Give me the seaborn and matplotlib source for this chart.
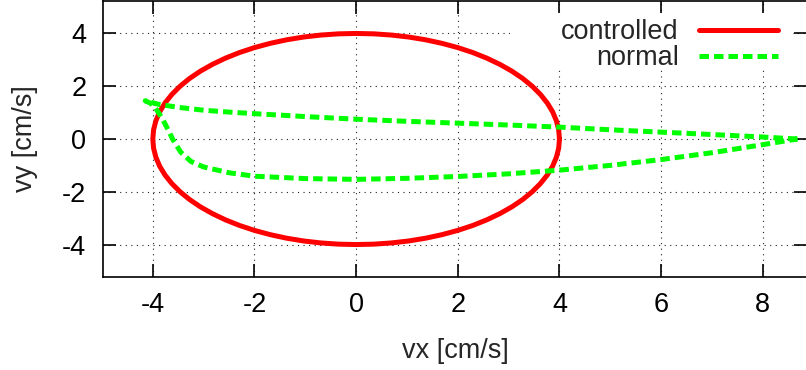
import numpy as np
import pandas as pd
import matplotlib
matplotlib.use("Agg")
import matplotlib.pyplot as plt
import seaborn as sns
from matplotlib.patches import Rectangle

# controlled: circle of radius 4 (read every 5 degrees)
controlled_vx = [4.000, 3.985, 3.939, 3.864, 3.759, 3.625, 3.464, 3.277, 3.064, 2.828,
                 2.571, 2.294, 2.000, 1.690, 1.368, 1.035, 0.695, 0.349, 0.000,
                 -0.349, -0.695, -1.035, -1.368, -1.690, -2.000, -2.294, -2.571, -2.828,
                 -3.064, -3.277, -3.464, -3.625, -3.759, -3.864, -3.939, -3.985, -4.000,
                 -3.985, -3.939, -3.864, -3.759, -3.625, -3.464, -3.277, -3.064, -2.828,
                 -2.571, -2.294, -2.000, -1.690, -1.368, -1.035, -0.695, -0.349, 0.000,
                 0.349, 0.695, 1.035, 1.368, 1.690, 2.000, 2.294, 2.571, 2.828,
                 3.064, 3.277, 3.464, 3.625, 3.759, 3.864, 3.939, 3.985, 4.000]
controlled_vy = [0.000, 0.349, 0.695, 1.035, 1.368, 1.690, 2.000, 2.294, 2.571, 2.828,
                 3.064, 3.277, 3.464, 3.625, 3.759, 3.864, 3.939, 3.985, 4.000,
                 3.985, 3.939, 3.864, 3.759, 3.625, 3.464, 3.277, 3.064, 2.828,
                 2.571, 2.294, 2.000, 1.690, 1.368, 1.035, 0.695, 0.349, 0.000,
                 -0.349, -0.695, -1.035, -1.368, -1.690, -2.000, -2.294, -2.571, -2.828,
                 -3.064, -3.277, -3.464, -3.625, -3.759, -3.864, -3.939, -3.985, -4.000,
                 -3.985, -3.939, -3.864, -3.759, -3.625, -3.464, -3.277, -3.064, -2.828,
                 -2.571, -2.294, -2.000, -1.690, -1.368, -1.035, -0.695, -0.349, 0.000]

# normal: upper branch right->left, then lower branch left->right
normal_vx = [8.68, 7.95, 7.00, 6.00, 5.20, 4.00, 3.00, 2.00, 1.00, 0.00,
             -1.00, -2.00, -2.50, -3.00, -3.50, -3.90, -4.15,
             -4.05, -3.95, -3.82, -3.70, -3.60, -3.45, -3.25, -3.00, -2.50,
             -2.00, -1.00, 0.00, 1.00, 2.00, 3.00, 4.00, 5.00, 6.00, 7.00,
             7.95, 8.45, 8.68]
normal_vy = [0.00, 0.08, 0.17, 0.26, 0.33, 0.45, 0.53, 0.60, 0.67, 0.75,
             0.85, 0.96, 1.02, 1.09, 1.20, 1.32, 1.45,
             1.36, 1.18, 0.80, 0.35, -0.04, -0.50, -0.85, -1.06, -1.28,
             -1.41, -1.50, -1.53, -1.49, -1.42, -1.32, -1.18, -1.00, -0.78, -0.52,
             -0.23, -0.07, 0.00]

x_ticks = [-4, -2, 0, 2, 4, 6, 8]
y_ticks = [-4, -2, 0, 2, 4]

sns.set_style("ticks")
plt.rcParams['font.family'] = ['Liberation Sans', 'DejaVu Sans']
plt.rcParams['axes.unicode_minus'] = False
fs = 19.5

fig = plt.figure(figsize=(8.06, 3.70), dpi=100)
ax = fig.add_axes([103/806, 93/370, 704/806, 276/370])

sns.lineplot(x=controlled_vx, y=controlled_vy, sort=False, estimator=None,
             color='#ff0000', lw=3.6, label='controlled', ax=ax,
             solid_joinstyle='round')
sns.lineplot(x=normal_vx, y=normal_vy, sort=False, estimator=None,
             color='#00ff00', lw=3.6, label='normal', ax=ax)
ax.lines[1].set_dashes((1.9, 1.0))
ax.lines[1].set_dash_capstyle('butt')

ax.set_xlim(-4.98, 8.87)
ax.set_ylim(-5.23, 5.23)
ax.set_xticks(x_ticks)
ax.set_yticks(y_ticks)
ax.grid(True, color='#222222', lw=0.8, linestyle=(0, (1, 4)))
ax.tick_params(direction='in', length=9.4, width=1.2, top=True, right=True,
               labelsize=fs, colors='black')
ax.tick_params(axis='x', pad=11)
ax.tick_params(axis='y', pad=12)
for s in ax.spines.values():
    s.set_linewidth(1.2)
    s.set_color('black')

# white key area hiding the grid
ax.add_patch(Rectangle((0.578, 0.75), 0.402, 0.207, transform=ax.transAxes,
                       facecolor='white', edgecolor='none', zorder=1.6))

ax.set_xlabel('vx [cm/s]', fontsize=fs, labelpad=14)
ax.set_ylabel('vy [cm/s]', fontsize=fs, labelpad=17)

leg = ax.legend(loc='upper right', bbox_to_anchor=(0.959, 0.933),
                frameon=False, markerfirst=False, fontsize=fs,
                handlelength=2.94, handletextpad=0.73, labelspacing=0.0,
                borderpad=0, borderaxespad=0)

fig.savefig('out.png', dpi=100)
